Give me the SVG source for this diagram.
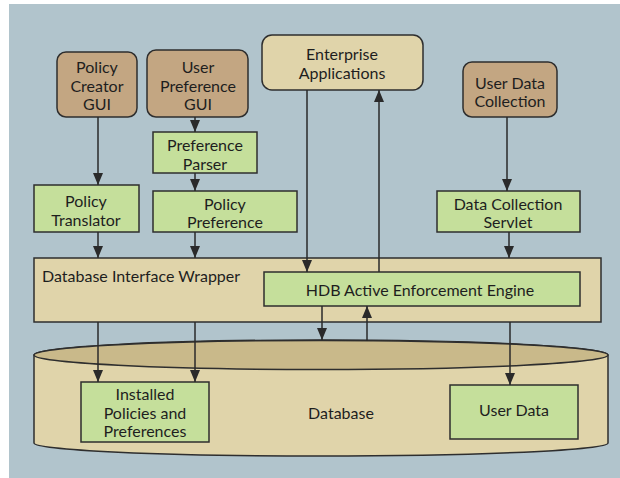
<svg xmlns="http://www.w3.org/2000/svg" width="620" height="478" viewBox="0 0 620 478">
<defs>
<style>
.bg{fill:#b1c4cc}
.brown{fill:#c3a682;stroke:#2e2e2e;stroke-width:1.5}
.beige{fill:#e0d4aa;stroke:#2e2e2e;stroke-width:1.5}
.green{fill:#c5df9b;stroke:#2e2e2e;stroke-width:1.5}
.top{fill:#c9b98a;stroke:#2e2e2e;stroke-width:1.5}
text{font-family:Lato,"Open Sans",sans-serif;font-size:16px;fill:#1e1e1e;text-anchor:middle;dominant-baseline:central}
.conn line{stroke:#2a2a2a;stroke-width:1.5;fill:none}
</style>
<marker id="ah" viewBox="0 0 12 10" refX="12" refY="5" markerWidth="12" markerHeight="10" markerUnits="userSpaceOnUse" orient="auto">
<path d="M0,0 L12,5 L0,10 Z" fill="#2a2a2a"/>
</marker>
</defs>
<rect class="bg" x="9" y="4" width="611" height="474"/>

<g id="database">
<path class="beige" d="M34,355 A287,15 0 0 1 608,355 L608,443 A287,13 0 0 1 34,443 Z"/>
<ellipse class="top" cx="321" cy="355" rx="287" ry="14.5"/>
<text x="341" y="412">Database</text>
</g>

<g id="installed">
<rect class="green" x="81" y="382" width="128" height="60"/>
<text x="145" y="393">Installed</text>
<text x="145" y="412">Policies and</text>
<text x="145" y="430">Preferences</text>
</g>

<g id="userdata">
<rect class="green" x="450" y="385" width="128" height="54"/>
<text x="514" y="409">User Data</text>
</g>

<g id="diw">
<rect class="beige" x="34" y="258" width="567" height="64"/>
<text x="42" y="275" style="text-anchor:start">Database Interface Wrapper</text>
</g>

<g id="hdb">
<rect class="green" x="264" y="272" width="316" height="34"/>
<text x="420" y="289">HDB Active Enforcement Engine</text>
</g>

<g id="policycreator">
<rect class="brown" x="57" y="52" width="80" height="65" rx="9"/>
<text x="97" y="66">Policy</text>
<text x="97" y="85">Creator</text>
<text x="97" y="103">GUI</text>
</g>

<g id="userpref">
<rect class="brown" x="147" y="50" width="101" height="67" rx="9"/>
<text x="198" y="66">User</text>
<text x="198" y="85">Preference</text>
<text x="198" y="103">GUI</text>
</g>

<g id="enterprise">
<rect class="beige" x="262" y="35" width="161" height="55" rx="10"/>
<text x="342" y="53">Enterprise</text>
<text x="342" y="72">Applications</text>
</g>

<g id="userdatacollection">
<rect class="brown" x="463" y="62" width="94" height="55" rx="9"/>
<text x="510" y="82">User Data</text>
<text x="510" y="100">Collection</text>
</g>

<g id="prefparser">
<rect class="green" x="153" y="132" width="104" height="41"/>
<text x="205" y="144">Preference</text>
<text x="205" y="163">Parser</text>
</g>

<g id="policytranslator">
<rect class="green" x="34" y="185" width="105" height="47"/>
<text x="86" y="200">Policy</text>
<text x="86" y="219">Translator</text>
</g>

<g id="policypreference">
<rect class="green" x="153" y="191" width="144" height="41"/>
<text x="225" y="203">Policy</text>
<text x="225" y="221">Preference</text>
</g>

<g id="servlet">
<rect class="green" x="437" y="191" width="143" height="41"/>
<text x="508" y="203">Data Collection</text>
<text x="508" y="221">Servlet</text>
</g>

<g class="conn" id="connectors">
<line x1="98" y1="117" x2="98" y2="185" marker-end="url(#ah)"/>
<line x1="195" y1="117" x2="195" y2="132" marker-end="url(#ah)"/>
<line x1="195" y1="173" x2="195" y2="191" marker-end="url(#ah)"/>
<line x1="98" y1="232" x2="98" y2="258" marker-end="url(#ah)"/>
<line x1="195" y1="232" x2="195" y2="258" marker-end="url(#ah)"/>
<line x1="307" y1="90" x2="307" y2="272" marker-end="url(#ah)"/>
<line x1="379" y1="272" x2="379" y2="90" marker-end="url(#ah)"/>
<line x1="507" y1="117" x2="507" y2="191" marker-end="url(#ah)"/>
<line x1="509" y1="232" x2="509" y2="258" marker-end="url(#ah)"/>
<line x1="322" y1="306" x2="322" y2="340" marker-end="url(#ah)"/>
<line x1="367" y1="341" x2="367" y2="306" marker-end="url(#ah)"/>
<line x1="98" y1="322" x2="98" y2="382" marker-end="url(#ah)"/>
<line x1="195" y1="322" x2="195" y2="382" marker-end="url(#ah)"/>
<line x1="510" y1="322" x2="510" y2="385" marker-end="url(#ah)"/>
</g>
</svg>
